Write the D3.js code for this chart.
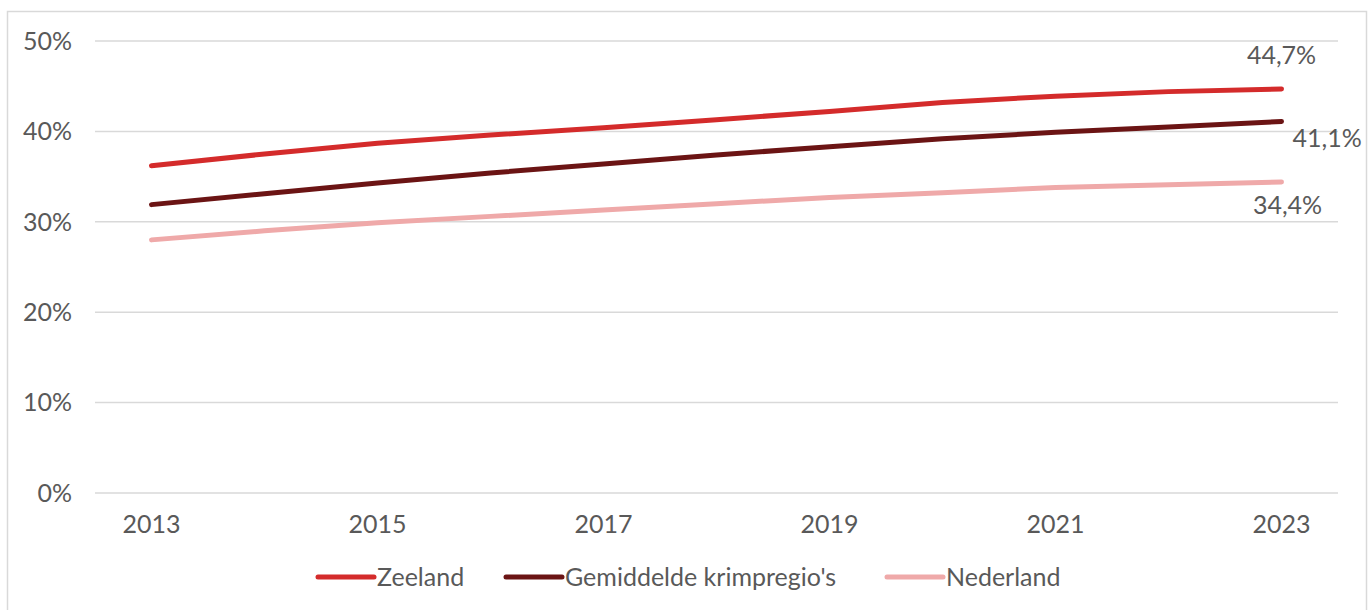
<html>
<head>
<meta charset="utf-8">
<title>Zeeland line chart</title>
<script src="https://cdn.jsdelivr.net/npm/d3@7"></script>
<style>
body{
    margin: 0;
    background: #fff;
    font-family: Lato, "Open Sans", sans-serif;
}
.grid line {
    stroke: #d9d9d9;
    stroke-width: 1.5px;
}
.serie {
    fill: none;
    stroke-width: 5px;
    stroke-linecap: round;
    stroke-linejoin: round;
}
text {
    fill: #595959;
    font-size: 25px;
}
</style>
</head>
<body>
<div id="chart"></div>
<script>
var years     = [2013, 2014, 2015, 2016, 2017, 2018, 2019, 2020, 2021, 2022, 2023],
    yearTicks = [2013, 2015, 2017, 2019, 2021, 2023],
    pctTicks  = [0, 10, 20, 30, 40, 50],
    zeeland   = [36.2, 37.5, 38.7, 39.6, 40.4, 41.3, 42.2, 43.2, 43.9, 44.4, 44.7],
    krimp     = [31.9, 33.1, 34.3, 35.4, 36.4, 37.4, 38.3, 39.2, 39.9, 40.5, 41.1],
    nederland = [28.0, 29.0, 29.9, 30.6, 31.3, 32.0, 32.7, 33.2, 33.8, 34.1, 34.4],
    names     = ['Zeeland', "Gemiddelde krimpregio's", 'Nederland'],
    colors    = ['#d42b2b', '#6b1414', '#efa9a9'];

var W = 1370, H = 610;
var svg = d3.select('#chart').append('svg')
    .attr('width', W)
    .attr('height', H);

// outer frame
svg.append('rect')
    .attr('x', 7.5).attr('y', 11.5)
    .attr('width', 1359).attr('height', 620)
    .attr('fill', 'none')
    .attr('stroke', '#d9d9d9')
    .attr('stroke-width', 1.5);

var x = d3.scaleBand().domain(years).range([95, 1338]);
var y = d3.scaleLinear().domain([0, 50]).range([493, 41]);
function cx(d) { return x(d) + x.bandwidth() / 2; }

svg.append('g')
    .attr('class', 'grid')
    .selectAll('line')
    .data(pctTicks)
    .enter().append('line')
    .attr('x1', 95).attr('x2', 1338)
    .attr('y1', function(d) { return y(d); })
    .attr('y2', function(d) { return y(d); });

svg.append('g')
    .selectAll('text')
    .data(pctTicks)
    .enter().append('text')
    .attr('x', 72)
    .attr('y', function(d) { return y(d); })
    .attr('dy', '0.35em')
    .attr('text-anchor', 'end')
    .text(function(d) { return d + '%'; });

svg.append('g')
    .selectAll('text')
    .data(yearTicks)
    .enter().append('text')
    .attr('x', cx)
    .attr('y', 533)
    .attr('text-anchor', 'middle')
    .text(function(d) { return d; });

var series = [zeeland, krimp, nederland];
var line = d3.line()
    .x(function(d, i) { return cx(years[i]); })
    .y(function(d) { return y(d); });

series.forEach(function(s, i) {
    svg.append('path')
        .datum(s)
        .attr('class', 'serie')
        .attr('stroke', colors[i])
        .attr('d', line);
});

// end labels
var last = years.length - 1;
function fmt(v) { return v.toFixed(1).replace('.', ',') + '%'; }
svg.append('text')
    .attr('x', cx(years[last]))
    .attr('y', y(zeeland[last]) - 25)
    .attr('text-anchor', 'middle')
    .text(fmt(zeeland[last]));
svg.append('text')
    .attr('x', cx(years[last]) + 11)
    .attr('y', y(krimp[last]) + 26)
    .attr('text-anchor', 'start')
    .text(fmt(krimp[last]));
svg.append('text')
    .attr('x', cx(years[last]) + 6)
    .attr('y', y(nederland[last]) + 32)
    .attr('text-anchor', 'middle')
    .text(fmt(nederland[last]));

// legend
var legX = [318, 506, 887];
names.forEach(function(n, i) {
    var g = svg.append('g').attr('transform', 'translate(' + legX[i] + ',577)');
    g.append('line')
        .attr('x1', 0).attr('x2', 56)
        .attr('stroke', colors[i])
        .attr('stroke-width', 5)
        .attr('stroke-linecap', 'round');
    g.append('text')
        .attr('x', 59)
        .attr('dy', '0.35em')
        .text(n);
});
</script>
</body>
</html>
